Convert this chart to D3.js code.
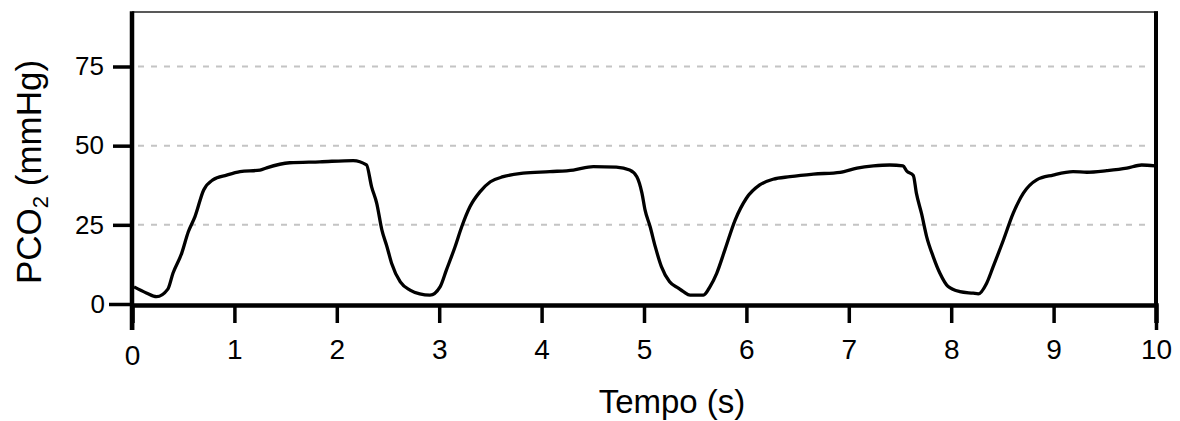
<!DOCTYPE html>
<html>
<head>
<meta charset="utf-8">
<script src="https://cdn.jsdelivr.net/npm/d3@7"></script>
<style>
  html, body { margin: 0; padding: 0; background: #fff; }
  svg { display: block; font-family: "Liberation Sans", Arial, sans-serif; }
</style>
</head>
<body>
<svg id="chart" width="1180" height="421"></svg>
<script>
// Capnogram trace: PCO2 over time
const timeS = [0.02,0.14,0.24,0.35,0.40,0.485,0.55,0.615,0.70,0.79,0.925,1.055,1.25,1.315,1.54,1.835,2.16,2.29,2.34,2.39,2.44,2.49,2.535,2.62,2.715,2.81,2.91,3.01,3.07,3.155,3.22,3.30,3.40,3.50,3.625,3.82,4.08,4.31,4.505,4.73,4.86,4.93,4.98,5.01,5.06,5.11,5.17,5.25,5.335,5.385,5.45,5.58,5.645,5.71,5.79,5.89,6.00,6.13,6.26,6.425,6.655,6.915,7.08,7.24,7.40,7.53,7.565,7.63,7.66,7.71,7.76,7.825,7.89,7.97,8.085,8.215,8.265,8.345,8.41,8.51,8.605,8.705,8.835,8.995,9.19,9.325,9.52,9.715,9.86,9.99];
const pco2 = [5.4,3.5,2.3,4.7,9.7,16.0,22.8,27.6,36.0,39.2,40.7,41.8,42.3,43.0,44.6,44.9,45.3,43.9,37.0,31.8,23.4,18.1,12.9,7.0,4.4,3.2,2.8,5.5,10.7,18.1,24.4,30.7,35.5,38.6,40.2,41.3,41.8,42.3,43.4,43.2,42.3,40.2,35.0,29.7,24.4,18.1,11.8,7.0,5.0,3.9,2.8,2.8,5.5,9.7,17.1,26.5,33.4,37.6,39.4,40.2,41.0,41.6,42.9,43.6,43.9,43.6,42.0,40.6,35.0,28.6,21.3,14.9,9.7,5.5,3.9,3.4,3.2,6.5,11.8,20.2,28.6,35.0,39.2,40.7,41.8,41.6,42.1,42.9,43.9,43.6];

const xTicks = [0,1,2,3,4,5,6,7,8,9,10];
const yTicks = [0,25,50,75];
const gridValues = [25,50,75];
const xTitle = "Tempo (s)";

const svg = d3.select("#chart");

const plotLeft = 132, plotRight = 1156, plotTop = 12, plotBottom = 304;
const x = d3.scaleLinear().domain([0, 10]).range([plotLeft, plotRight]);
const y = d3.scaleLinear().domain([0, 75]).range([plotBottom, 66.5]);

// dashed horizontal gridlines
svg.append("g").selectAll("line").data(gridValues).join("line")
  .attr("x1", plotLeft + 6).attr("x2", plotRight - 4)
  .attr("y1", d => y(d)).attr("y2", d => y(d))
  .attr("stroke", "#c4c4c4").attr("stroke-width", 2)
  .attr("stroke-dasharray", "6,7");

// frame: thin top, thick right
svg.append("line").attr("x1", plotLeft).attr("x2", plotRight + 2).attr("y1", plotTop).attr("y2", plotTop)
  .attr("stroke", "#222").attr("stroke-width", 1.5);
svg.append("line").attr("x1", plotRight).attr("x2", plotRight).attr("y1", plotTop - 0.75).attr("y2", plotBottom + 2)
  .attr("stroke", "#000").attr("stroke-width", 4);

// trace
const line = d3.line()
  .x((d, i) => x(timeS[i]))
  .y(d => y(d))
  .curve(d3.curveMonotoneX);
svg.append("path").datum(pco2)
  .attr("d", line)
  .attr("fill", "none").attr("stroke", "#000")
  .attr("stroke-width", 3.3).attr("stroke-linejoin", "round");

// x axis
const xAxis = d3.axisBottom(x).tickValues(xTicks).tickSize(18).tickPadding(14)
  .tickFormat(d3.format("d"));
const gx = svg.append("g").attr("transform", `translate(0,${plotBottom + 1})`).call(xAxis);
gx.select(".domain").attr("stroke", "#000").attr("stroke-width", 4.5);
gx.selectAll(".tick line").attr("stroke", "#000").attr("stroke-width", 3.5)
  .attr("y2", d => (d === 0 || d === 10) ? 25 : 18);
gx.selectAll(".tick text").attr("fill", "#000").style("font-size", "28px")
  .attr("dy", d => d === 0 ? "1.0em" : "0.8em");

// y axis
const yAxis = d3.axisLeft(y).tickValues(yTicks).tickSize(19).tickPadding(9)
  .tickFormat(d3.format("d"));
const gy = svg.append("g").attr("transform", `translate(${plotLeft},0)`).call(yAxis);
gy.select(".domain").remove();
gy.selectAll(".tick line").attr("stroke", "#000").attr("stroke-width", 3.5)
  .attr("x2", d => d === 0 ? -23 : -19);
gy.selectAll(".tick text").attr("fill", "#000").style("font-size", "26px");
gy.selectAll(".tick").filter(d => d === 0).select("text").attr("x", -27);
svg.append("line").attr("x1", plotLeft).attr("x2", plotLeft).attr("y1", plotTop - 0.75).attr("y2", plotBottom + 26)
  .attr("stroke", "#000").attr("stroke-width", 4.5);

// axis titles
svg.append("text").attr("x", 672).attr("y", 413).attr("text-anchor", "middle")
  .style("font-size", "33px").attr("fill", "#000").text(xTitle);

const yt = svg.append("text")
  .attr("transform", "translate(41,172) rotate(-90)")
  .attr("text-anchor", "middle").style("font-size", "35px").attr("fill", "#000");
yt.append("tspan").text("PCO");
yt.append("tspan").attr("dy", 7).style("font-size", "22px").text("2");
yt.append("tspan").attr("dy", -7).text(" (mmHg)");
</script>
</body>
</html>
